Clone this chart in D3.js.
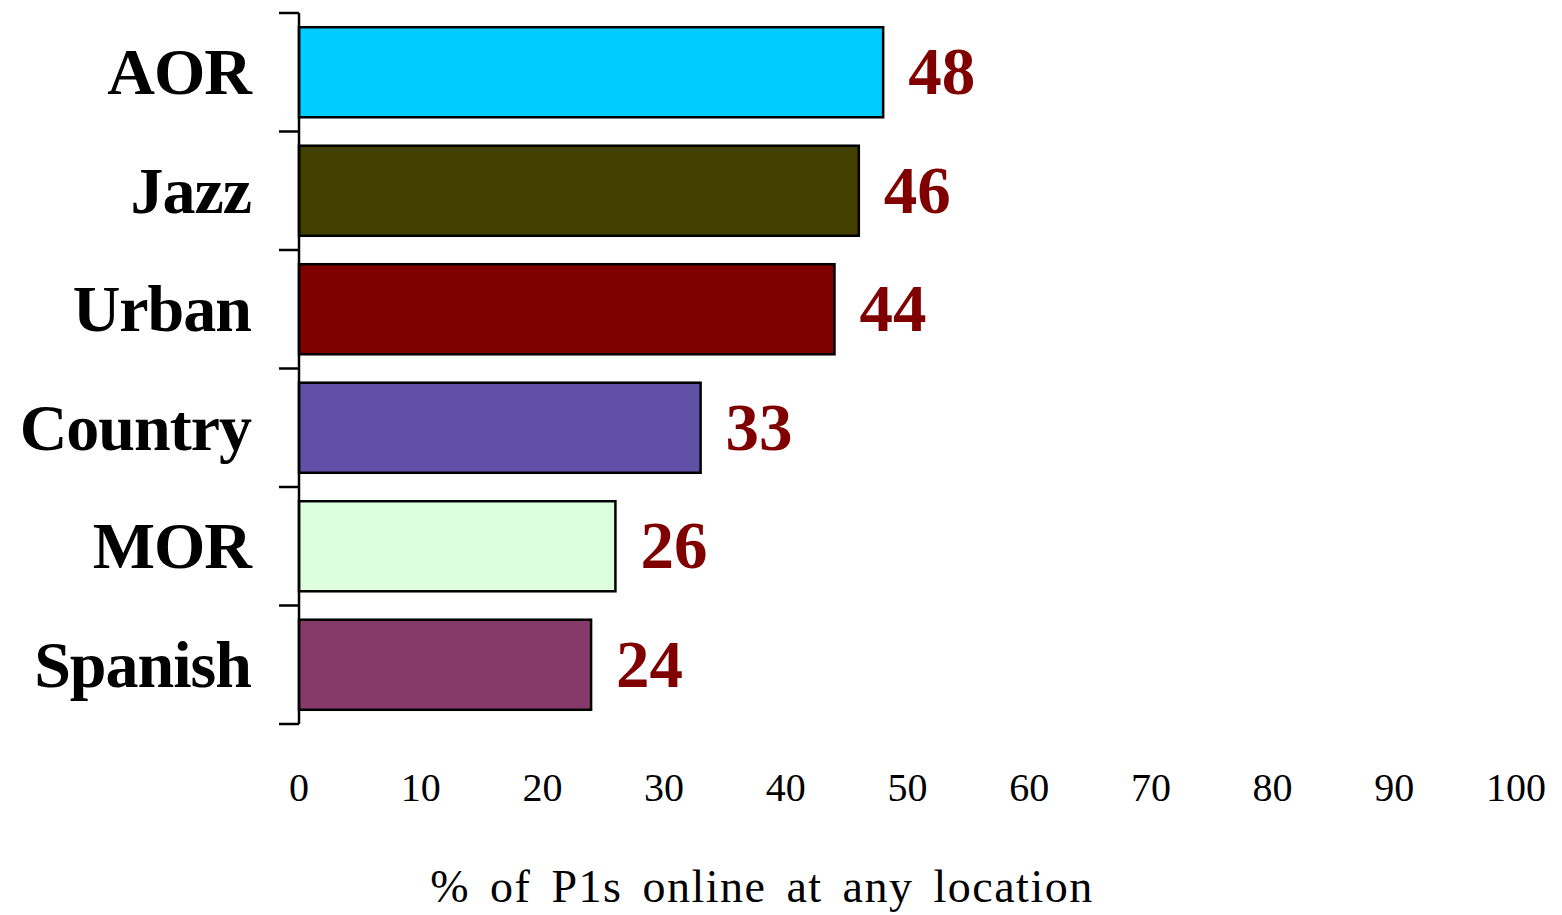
<!DOCTYPE html>
<html lang="en">
<head>
    <meta charset="UTF-8">
    <title>P1s online by format</title>
    <script src="https://cdnjs.cloudflare.com/ajax/libs/d3/7.8.5/d3.min.js"></script>
    <style>
        body { margin: 0; background: #fff; }
        svg { display: block; }
        .cat { font-family: "Liberation Serif", "Times New Roman", serif; font-weight: bold; font-size: 66px; letter-spacing: -1px; }
        .val { font-family: "Liberation Serif", "Times New Roman", serif; font-weight: bold; font-size: 67px; fill: #800000; }
        .tick-lbl { font-family: "Liberation Serif", "Times New Roman", serif; font-size: 40px; }
        .title { font-family: "Liberation Serif", "Times New Roman", serif; font-size: 46px; letter-spacing: 1.5px; word-spacing: 7px; }
    </style>
</head>
<body>
<svg width="1562" height="915"></svg>
<script>
    // data
    const categories = ["AOR", "Jazz", "Urban", "Country", "MOR", "Spanish"];
    const values = [48, 46, 44, 33, 26, 24];
    const colors = ["#00CCFF", "#423F00", "#800000", "#6050A8", "#DDFFDD", "#853A69"];
    const xTicks = [0, 10, 20, 30, 40, 50, 60, 70, 80, 90, 100];
    const xTitle = "% of P1s online at any location";

    const svg = d3.select("svg");

    const x = d3.scaleLinear().domain([0, 100]).range([299, 1516]);
    const y = d3.scaleBand()
        .domain(categories)
        .range([13, 724])
        .paddingInner(0.24)
        .paddingOuter(0.12);

    // bars
    svg.append("g")
        .selectAll("rect")
        .data(categories)
        .enter()
        .append("rect")
        .attr("x", x(0))
        .attr("y", d => y(d))
        .attr("width", (d, i) => x(values[i]) - x(0))
        .attr("height", y.bandwidth())
        .attr("fill", (d, i) => colors[i])
        .attr("stroke", "#000")
        .attr("stroke-width", 2.5);

    // y axis line + ticks at band boundaries
    const bounds = d3.range(categories.length + 1).map(i => y.range()[0] + i * y.step());
    svg.append("line")
        .attr("x1", x(0)).attr("x2", x(0))
        .attr("y1", y.range()[0]).attr("y2", y.range()[1])
        .attr("stroke", "#000").attr("stroke-width", 2.5);
    svg.append("g")
        .selectAll("line")
        .data(bounds)
        .enter()
        .append("line")
        .attr("x1", x(0) - 20).attr("x2", x(0))
        .attr("y1", d => d).attr("y2", d => d)
        .attr("stroke", "#000").attr("stroke-width", 2.5);

    // category labels
    svg.append("g")
        .selectAll("text")
        .data(categories)
        .enter()
        .append("text")
        .attr("class", "cat")
        .attr("x", 251)
        .attr("y", d => y(d) + y.bandwidth() / 2 + 22)
        .attr("text-anchor", "end")
        .text(d => d);

    // value labels
    svg.append("g")
        .selectAll("text")
        .data(categories)
        .enter()
        .append("text")
        .attr("class", "val")
        .attr("x", (d, i) => x(values[i]) + 25)
        .attr("y", d => y(d) + y.bandwidth() / 2 + 22)
        .text((d, i) => values[i]);

    // x tick labels (no axis line)
    svg.append("g")
        .selectAll("text")
        .data(xTicks)
        .enter()
        .append("text")
        .attr("class", "tick-lbl")
        .attr("x", d => x(d))
        .attr("y", 801)
        .attr("text-anchor", "middle")
        .text(d => d);

    // x axis title
    svg.append("text")
        .attr("class", "title")
        .attr("x", 762)
        .attr("y", 902)
        .attr("text-anchor", "middle")
        .text(xTitle);
</script>
</body>
</html>
